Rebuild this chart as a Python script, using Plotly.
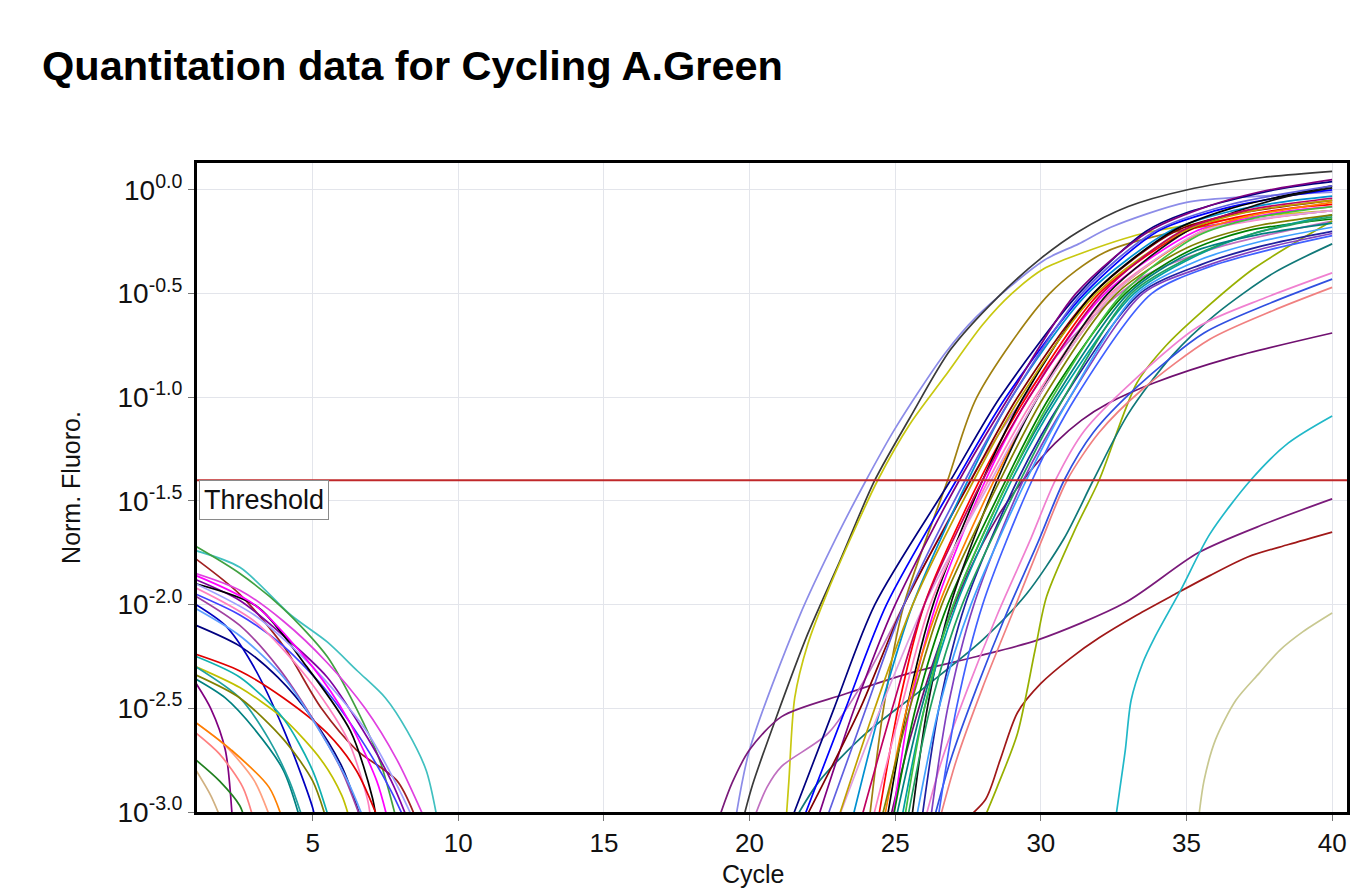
import numpy as np
import plotly.graph_objects as go

TITLE = "Quantitation data for Cycling A.Green"
X_LABEL = "Cycle"
Y_LABEL = "Norm. Fluoro."
THRESHOLD_LABEL = "Threshold"

x_tick_vals = [5, 10, 15, 20, 25, 30, 35, 40]
y_tick_exps = [0.0, -0.5, -1.0, -1.5, -2.0, -2.5, -3.0]
y_tick_text = ["10<sup>0.0</sup>", "10<sup>-0.5</sup>", "10<sup>-1.0</sup>",
               "10<sup>-1.5</sup>", "10<sup>-2.0</sup>", "10<sup>-2.5</sup>",
               "10<sup>-3.0</sup>"]
threshold_log = -1.40
x_range = [1.03, 40.51]
y_range_log = [-3.0, 0.13]

# ---------------- amplification curves (cycle, log10 Norm. Fluoro.) ----------------
e1_x = [19.5, 20.0, 21.7, 23.0, 24.0, 25.0, 26.7, 27.8, 30.1, 31.3, 32.4, 35.0, 37.5, 40.0]
e1_y = [-3.05, -2.70, -2.06, -1.67, -1.40, -1.15, -0.79, -0.61, -0.34, -0.26, -0.18, -0.06, -0.03, -0.01]
e2_x = [19.75, 20.1, 20.9, 22.0, 23.1, 24.3, 25.5, 26.9, 28.5, 30.0, 31.3, 33.0, 35.0, 37.6, 40.0]
e2_y = [-3.05, -2.87, -2.55, -2.14, -1.79, -1.40, -1.10, -0.77, -0.52, -0.33, -0.20, -0.08, 0.0, 0.06, 0.09]
e3_x = [21.25, 21.35, 21.55, 22.0, 22.7, 23.6, 24.4, 25.5, 26.7, 28.0, 29.0, 30.1, 31.3, 33.5, 36.0, 38.0, 40.0]
e3_y = [-3.05, -2.85, -2.45, -2.19, -1.93, -1.64, -1.40, -1.13, -0.90, -0.65, -0.50, -0.38, -0.31, -0.21, -0.15, -0.12, -0.10]
p1_x = [18.9, 19.4, 20.0, 21.1, 23.3, 25.5, 27.8, 29.9, 32.9, 35.4, 37.7, 40.0]
p1_y = [-3.05, -2.86, -2.70, -2.54, -2.43, -2.33, -2.25, -2.17, -1.99, -1.75, -1.61, -1.49]
p2_x = [20.1, 20.6, 21.1, 22.7, 24.0, 25.3, 26.6, 28.0, 29.7, 31.5, 33.5, 36.0, 40.0]
p2_y = [-3.05, -2.88, -2.78, -2.62, -2.35, -2.0, -1.65, -1.3, -0.95, -0.65, -0.42, -0.28, -0.15]
l1_x = [27.3, 28.1, 28.6, 29.2, 30.0, 31.0, 32.0, 33.3, 34.6, 35.8, 37.1, 38.5, 40.0]
l1_y = [-3.05, -2.94, -2.75, -2.52, -2.38, -2.26, -2.16, -2.05, -1.95, -1.86, -1.77, -1.71, -1.65]
l2_x = [28.0, 28.5, 29.2, 29.8, 30.2, 31.2, 32.0, 33.3, 34.3, 35.5, 37.3, 40.0]
l2_y = [-3.05, -2.88, -2.62, -2.22, -1.96, -1.63, -1.40, -0.93, -0.75, -0.59, -0.38, -0.15]
l3_x = [32.55, 32.7, 32.9, 33.1, 33.5, 33.9, 34.8, 35.8, 37.2, 38.5, 40.0]
l3_y = [-3.05, -2.9, -2.7, -2.46, -2.28, -2.16, -1.93, -1.66, -1.40, -1.22, -1.09]
l4_x = [35.4, 35.6, 36.0, 36.7, 37.5, 38.2, 39.0, 40.0]
l4_y = [-3.05, -2.85, -2.65, -2.46, -2.33, -2.22, -2.13, -2.04]
l5_x = [24.8, 25.5, 26.5, 27.5, 28.5, 29.5, 30.5, 31.4, 32.3, 33.9, 36.5, 40.0]
l5_y = [-3.05, -2.65, -2.2, -1.85, -1.58, -1.38, -1.22, -1.11, -1.03, -0.93, -0.81, -0.69]
l6_x = [21.5, 22.4, 24.0, 26.0, 28.0, 29.5, 30.8, 31.8, 33.0, 34.5, 36.0, 38.0, 40.0]
l6_y = [-3.05, -2.85, -2.62, -2.40, -2.17, -1.95, -1.68, -1.40, -1.08, -0.80, -0.60, -0.40, -0.26]
t1_x = [26.0, 26.6, 27.5, 28.5, 29.6, 30.5, 31.5, 33.1, 35.4, 37.7, 40.0]
t1_y = [-3.05, -2.75, -2.40, -2.05, -1.70, -1.40, -1.16, -0.93, -0.66, -0.52, -0.40]
t2_x = [26.3, 26.9, 27.8, 28.8, 29.9, 30.8, 31.8, 33.3, 35.6, 37.8, 40.0]
t2_y = [-3.05, -2.75, -2.40, -2.05, -1.70, -1.40, -1.17, -0.95, -0.69, -0.55, -0.43]
t3_x = [26.5, 27.1, 28.0, 29.0, 30.0, 30.9, 32.0, 33.5, 35.8, 38.0, 40.0]
t3_y = [-3.05, -2.75, -2.40, -2.05, -1.70, -1.40, -1.17, -0.96, -0.72, -0.58, -0.47]

b01_x = [24.1, 24.6, 25.3, 26.8, 27.8, 30.3, 32.2, 35.0, 37.5, 40.0]
b01_y = [-3.05, -2.5, -2.0, -1.4, -1.0, -0.5, -0.3, -0.19, -0.14, -0.10]
b02_x = [21.4, 22.9, 24.3, 26.9, 28.6, 31.3, 33.6, 35.0, 38.0, 40.0]
b02_y = [-3.05, -2.5, -2.0, -1.4, -1.0, -0.5, -0.2, -0.11, 0.0, 0.04]
b03_x = [21.8, 23.3, 24.7, 27.1, 28.8, 31.5, 34.0, 36.0, 38.0, 40.0]
b03_y = [-3.05, -2.5, -2.0, -1.4, -1.0, -0.5, -0.2, -0.1, -0.04, 0.0]
b04_x = [22.3, 23.6, 25.0, 27.2, 28.9, 31.2, 33.7, 35.5, 37.5, 40.0]
b04_y = [-3.05, -2.5, -2.0, -1.4, -1.0, -0.5, -0.2, -0.09, -0.01, 0.05]
b05_x = [21.85, 23.8, 25.3, 27.6, 29.2, 31.8, 34.6, 36.5, 38.3, 40.0]
b05_y = [-3.05, -2.5, -2.0, -1.4, -1.0, -0.5, -0.2, -0.12, -0.08, -0.05]
b06_x = [23.5, 24.5, 25.6, 27.5, 29.0, 31.6, 34.4, 36.3, 38.2, 40.0]
b06_y = [-3.05, -2.5, -2.0, -1.4, -1.0, -0.5, -0.2, -0.11, -0.06, -0.03]
b07_x = [24.4, 25.1, 26.0, 27.9, 29.5, 32.0, 35.0, 36.8, 38.5, 40.0]
b07_y = [-3.05, -2.5, -2.0, -1.4, -1.0, -0.5, -0.2, -0.13, -0.09, -0.07]
b08_x = [24.9, 25.5, 26.4, 28.1, 29.6, 32.2, 35.3, 37.0, 38.6, 40.0]
b08_y = [-3.05, -2.5, -2.0, -1.4, -1.0, -0.5, -0.2, -0.14, -0.1, -0.08]
b09_x = [24.7, 25.4, 26.3, 28.0, 29.4, 31.8, 34.5, 36.5, 38.3, 40.0]
b09_y = [-3.05, -2.5, -2.0, -1.4, -1.0, -0.5, -0.2, -0.09, -0.03, 0.02]
b10_x = [24.2, 25.2, 26.2, 28.2, 29.8, 32.4, 35.6, 37.2, 38.7, 40.0]
b10_y = [-3.05, -2.5, -2.0, -1.4, -1.0, -0.5, -0.2, -0.15, -0.12, -0.1]
b11_x = [24.6, 25.4, 26.5, 28.4, 29.9, 32.5, 35.5, 37.0, 38.6, 40.0]
b11_y = [-3.05, -2.5, -2.0, -1.4, -1.0, -0.5, -0.2, -0.13, -0.09, -0.06]
b12_x = [24.9, 25.7, 26.8, 28.8, 30.3, 32.9, 35.0, 37.0, 40.0]
b12_y = [-3.05, -2.5, -2.0, -1.4, -1.0, -0.5, -0.3, -0.2, -0.14]
b13_x = [25.55, 26.1, 26.9, 28.5, 29.9, 32.3, 35.0, 36.8, 38.5, 40.0]
b13_y = [-3.05, -2.5, -2.0, -1.4, -1.0, -0.5, -0.2, -0.1, -0.03, 0.01]
b14_x = [25.2, 26.0, 27.1, 29.0, 30.6, 33.2, 35.3, 37.3, 40.0]
b14_y = [-3.05, -2.5, -2.0, -1.4, -1.0, -0.5, -0.32, -0.21, -0.12]
b15_x = [25.9, 26.5, 27.4, 29.2, 30.8, 33.4, 35.5, 37.6, 40.0]
b15_y = [-3.05, -2.5, -2.0, -1.4, -1.0, -0.5, -0.36, -0.27, -0.2]
b16_x = [26.2, 26.8, 27.7, 29.4, 31.0, 33.5, 35.6, 37.7, 40.0]
b16_y = [-3.05, -2.5, -2.0, -1.4, -1.0, -0.5, -0.37, -0.28, -0.21]
b17_x = [26.45, 27.1, 28.0, 29.7, 31.2, 33.8, 35.8, 37.8, 40.0]
b17_y = [-3.05, -2.5, -2.0, -1.4, -1.0, -0.5, -0.37, -0.29, -0.22]
b18_x = [25.4, 26.2, 27.3, 29.3, 30.8, 33.1, 35.2, 37.3, 40.0]
b18_y = [-3.05, -2.5, -2.0, -1.4, -1.0, -0.5, -0.32, -0.21, -0.13]
b19_x = [25.7, 26.5, 27.6, 29.5, 31.0, 33.3, 35.4, 37.5, 40.0]
b19_y = [-3.05, -2.5, -2.0, -1.4, -1.0, -0.5, -0.34, -0.25, -0.18]
b20_x = [24.5, 25.5, 26.6, 28.6, 30.1, 32.6, 35.0, 37.2, 40.0]
b20_y = [-3.05, -2.5, -2.0, -1.4, -1.0, -0.5, -0.28, -0.18, -0.12]
b21_x = [23.0, 24.5, 26.0, 28.3, 29.9, 32.5, 35.5, 37.5, 40.0]
b21_y = [-3.05, -2.5, -2.0, -1.4, -1.0, -0.5, -0.2, -0.14, -0.1]
b22_x = [22.6, 24.0, 25.3, 27.4, 29.0, 31.4, 33.9, 36.5, 40.0]
b22_y = [-3.05, -2.5, -2.0, -1.4, -1.0, -0.5, -0.2, -0.07, 0.02]
b23_x = [23.0, 24.3, 25.6, 27.7, 29.3, 31.9, 34.9, 37.3, 40.0]
b23_y = [-3.05, -2.5, -2.0, -1.4, -1.0, -0.5, -0.2, -0.1, -0.05]
b24_x = [25.0, 25.9, 27.0, 28.9, 30.5, 33.0, 35.2, 37.3, 40.0]
b24_y = [-3.05, -2.5, -2.0, -1.4, -1.0, -0.5, -0.3, -0.22, -0.16]
b25_x = [23.8, 24.9, 26.0, 28.0, 29.6, 32.1, 34.8, 37.0, 40.0]
b25_y = [-3.05, -2.5, -2.0, -1.4, -1.0, -0.5, -0.2, -0.1, -0.04]
b26_x = [25.3, 26.0, 27.0, 28.9, 30.4, 32.8, 35.4, 37.5, 40.0]
b26_y = [-3.05, -2.5, -2.0, -1.4, -1.0, -0.5, -0.22, -0.13, -0.08]

# ---------------- early-cycle baseline curves ----------------
d01_x = [1.0, 2.5, 4.25, 5.5, 6.54, 7.5, 8.25, 8.9, 9.3]
d01_y = [-1.74, -1.82, -2.05, -2.18, -2.32, -2.45, -2.61, -2.8, -3.05]
d02_x = [1.0, 2.5, 4.0, 5.5, 6.5, 7.3, 7.9]
d02_y = [-1.72, -1.85, -2.02, -2.25, -2.5, -2.75, -3.05]
d03_x = [1.0, 2.5, 4.0, 5.3, 6.5, 7.9, 8.6]
d03_y = [-1.78, -1.95, -2.2, -2.5, -2.7, -2.85, -3.05]
d04_x = [1.0, 2.5, 4.0, 5.5, 6.8, 7.9, 8.9]
d04_y = [-1.85, -1.93, -2.08, -2.28, -2.5, -2.75, -3.05]
d05_x = [1.0, 2.5, 4.0, 5.5, 6.7, 7.7, 8.3]
d05_y = [-1.88, -1.98, -2.15, -2.35, -2.6, -2.85, -3.05]
d06_x = [1.0, 2.5, 4.0, 5.5, 6.8, 7.7, 8.2]
d06_y = [-1.95, -2.05, -2.2, -2.42, -2.68, -2.9, -3.05]
d07_x = [1.0, 3.1, 4.8, 6.3, 7.05, 7.2]
d07_y = [-1.90, -2.01, -2.30, -2.61, -2.93, -3.05]
d08_x = [1.0, 3.0, 4.8, 6.2, 6.9, 7.0]
d08_y = [-1.92, -2.08, -2.35, -2.65, -2.95, -3.05]
d09_x = [1.0, 2.5, 3.8, 5.0, 6.0, 6.7]
d09_y = [-2.1, -2.2, -2.35, -2.55, -2.78, -3.05]
d10_x = [1.0, 2.0, 2.9, 4.0, 5.0, 5.1]
d10_y = [-2.0, -2.1, -2.28, -2.6, -2.98, -3.05]
d11_x = [1.0, 2.5, 4.0, 5.5, 6.5, 7.3]
d11_y = [-2.24, -2.32, -2.45, -2.62, -2.8, -3.05]
d12_x = [1.0, 2.5, 4.0, 5.3, 6.0, 6.3]
d12_y = [-2.3, -2.4, -2.55, -2.75, -2.92, -3.05]
d13_x = [1.0, 2.0, 3.0, 4.0, 4.6]
d13_y = [-2.36, -2.45, -2.6, -2.8, -3.05]
d14_x = [1.0, 1.5, 2.0, 2.25]
d14_y = [-2.38, -2.5, -2.7, -3.05]
d15_x = [1.0, 2.0, 3.0, 3.6]
d15_y = [-2.57, -2.68, -2.85, -3.05]
d16_x = [1.0, 1.8, 2.6, 3.0]
d16_y = [-2.62, -2.72, -2.88, -3.05]
d17_x = [1.0, 1.8, 2.5, 2.7]
d17_y = [-2.75, -2.85, -2.97, -3.05]
d18_x = [1.0, 1.5, 1.9]
d18_y = [-2.8, -2.92, -3.05]
d19_x = [1.0, 2.5, 3.5, 4.2, 4.7]
d19_y = [-2.3, -2.45, -2.65, -2.85, -3.05]
d20_x = [1.0, 2.5, 4.0, 5.0, 5.6]
d20_y = [-2.25, -2.35, -2.55, -2.8, -3.05]
d21_x = [1.0, 2.5, 3.8, 5.0, 6.0, 6.7]
d21_y = [-1.96, -2.1, -2.3, -2.55, -2.8, -3.05]
d22_x = [1.0, 2.5, 4.0, 5.2, 6.2, 6.8]
d22_y = [-2.02, -2.15, -2.35, -2.6, -2.85, -3.05]
d23_x = [1.0, 2.5, 4.0, 5.0, 5.5]
d23_y = [-2.34, -2.45, -2.65, -2.85, -3.05]
d24_x = [1.0, 2.2, 3.5, 4.0]
d24_y = [-2.57, -2.7, -2.88, -3.05]
d25_x = [1.0, 3.0, 5.0, 6.8, 8.0, 8.5]
d25_y = [-1.9, -2.05, -2.3, -2.6, -2.9, -3.05]
d26_x = [1.0, 3.0, 5.0, 6.2, 7.2, 7.6]
d26_y = [-1.86, -2.0, -2.3, -2.55, -2.85, -3.05]

curves = [
    (e1_x, e1_y), (e2_x, e2_y), (e3_x, e3_y), (p1_x, p1_y), (p2_x, p2_y),
    (l1_x, l1_y), (l2_x, l2_y), (l3_x, l3_y), (l4_x, l4_y), (l5_x, l5_y), (l6_x, l6_y),
    (t1_x, t1_y), (t2_x, t2_y), (t3_x, t3_y),
    (b01_x, b01_y), (b02_x, b02_y), (b03_x, b03_y), (b04_x, b04_y), (b05_x, b05_y),
    (b06_x, b06_y), (b07_x, b07_y), (b08_x, b08_y), (b09_x, b09_y), (b10_x, b10_y),
    (b11_x, b11_y), (b12_x, b12_y), (b13_x, b13_y), (b14_x, b14_y), (b15_x, b15_y),
    (b16_x, b16_y), (b17_x, b17_y), (b18_x, b18_y), (b19_x, b19_y), (b20_x, b20_y),
    (b21_x, b21_y), (b22_x, b22_y), (b23_x, b23_y), (b24_x, b24_y), (b25_x, b25_y),
    (b26_x, b26_y),
    (d01_x, d01_y), (d02_x, d02_y), (d03_x, d03_y), (d04_x, d04_y), (d05_x, d05_y),
    (d06_x, d06_y), (d07_x, d07_y), (d08_x, d08_y), (d09_x, d09_y), (d10_x, d10_y),
    (d11_x, d11_y), (d12_x, d12_y), (d13_x, d13_y), (d14_x, d14_y), (d15_x, d15_y),
    (d16_x, d16_y), (d17_x, d17_y), (d18_x, d18_y), (d19_x, d19_y), (d20_x, d20_y),
    (d21_x, d21_y), (d22_x, d22_y), (d23_x, d23_y), (d24_x, d24_y), (d25_x, d25_y),
    (d26_x, d26_y),
]

curve_colors = [
    "#8C8CE8", "#3A3A3A", "#C8C810", "#7A1A7A", "#C070C0",
    "#A01818", "#98B000", "#20B8C8", "#C8C890", "#701070", "#107878",
    "#F080D0", "#3050E0", "#F08080",
    "#A08010", "#000080", "#0000FF", "#800080", "#800000",
    "#0090D0", "#FF0000", "#FF00FF", "#000000", "#FF80C0",
    "#FF8000", "#008000", "#101010", "#00A0A0", "#2020A0",
    "#8040C0", "#4060FF", "#20A060", "#40A0FF", "#808000",
    "#E0A0E0", "#6060E0", "#C0A000", "#008080", "#C00060",
    "#40C040",
    "#40C0C0", "#40A040", "#A02020", "#E040E0", "#8000A0",
    "#4040FF", "#000000", "#FF80C0", "#000080", "#0000C0",
    "#E00000", "#C0C000", "#008080", "#800080", "#FFA080",
    "#FF8080", "#208020", "#D0B080", "#20A0A0", "#10B0B0",
    "#A040A0", "#60A0FF", "#808000", "#FF8000", "#A0A0FF",
    "#FF00FF",
]

FONT = "Liberation Sans, Arial, sans-serif"

fig = go.Figure()
for (cx, cy), col in zip(curves, curve_colors):
    fig.add_trace(go.Scatter(
        x=cx, y=10 ** np.array(cy), mode="lines",
        line=dict(color=col, width=1.7, shape="spline", smoothing=0.8),
        showlegend=False, hoverinfo="skip"))

fig.add_trace(go.Scatter(
    x=x_range, y=[10 ** threshold_log] * 2, mode="lines",
    line=dict(color="#C0282A", width=2.2), showlegend=False, hoverinfo="skip"))

axis_common = dict(
    showgrid=True, gridcolor="#E3E5EB", gridwidth=1,
    showline=True, linecolor="black", linewidth=3, mirror=True,
    ticks="outside", ticklen=6, tickcolor="#777777", tickwidth=1,
    zeroline=False,
)

fig.update_layout(
    width=1355, height=891,
    paper_bgcolor="white", plot_bgcolor="white",
    margin=dict(l=197, r=5, t=163, b=79),
    font=dict(family=FONT, color="#111111"),
    title=dict(text="<b>" + TITLE + "</b>", x=42 / 1355, xref="container",
               xanchor="left", y=1 - 65 / 891, yref="container", yanchor="middle",
               font=dict(family=FONT, size=41.5, color="black")),
    xaxis=dict(range=x_range, tickvals=x_tick_vals,
               ticktext=[str(v) for v in x_tick_vals],
               tickfont=dict(family=FONT, size=26, color="#111111"), **axis_common),
    yaxis=dict(type="log", range=y_range_log,
               tickvals=[10 ** e for e in y_tick_exps], ticktext=y_tick_text,
               tickfont=dict(family=FONT, size=28, color="#111111"),
               title=dict(text=Y_LABEL, standoff=30,
                          font=dict(family=FONT, size=25, color="#111111")),
               **axis_common),
    annotations=[
        dict(text=X_LABEL, x=0.484, y=-0.095, xref="paper", yref="paper",
             xanchor="center", yanchor="middle", showarrow=False,
             font=dict(family=FONT, size=25, color="#111111")),
        dict(text=THRESHOLD_LABEL, x=0.0015, y=threshold_log, xref="paper", yref="y",
             xanchor="left", yanchor="top", showarrow=False, bgcolor="white",
             bordercolor="#8A8A8A", borderwidth=1, borderpad=4,
             font=dict(family=FONT, size=27, color="#111111")),
    ],
)

fig.write_html("out.html", config={"displayModeBar": False},
               post_script="document.body.style.margin='0';")
